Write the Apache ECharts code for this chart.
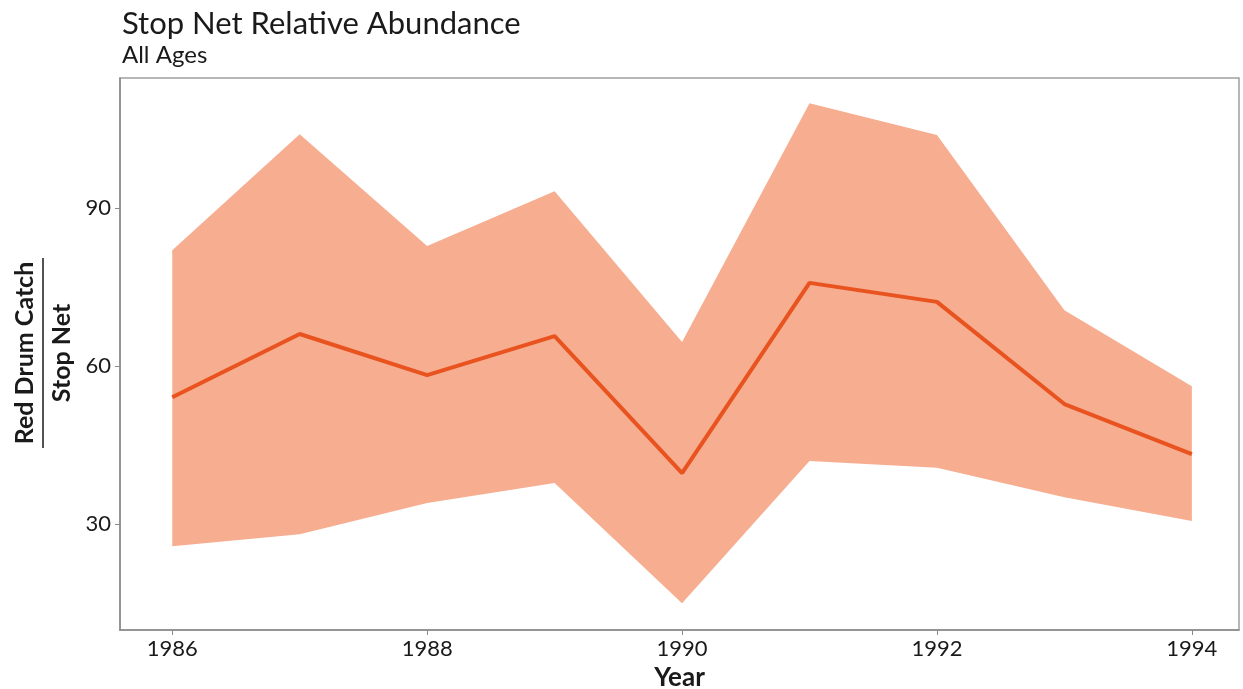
<!DOCTYPE html>
<html>
<head>
<meta charset="utf-8">
<script src="https://cdn.jsdelivr.net/npm/echarts@6/dist/echarts.min.js"></script>
<style>
  html, body { margin: 0; padding: 0; background: #fff; }
  #chart { width: 1243px; height: 689px; }
</style>
</head>
<body>
<div id="chart"></div>
<script>
// Stop net relative abundance of red drum, all ages
const years = [1986, 1987, 1988, 1989, 1990, 1991, 1992, 1993, 1994];
const meanCatch = [54.1, 66.1, 58.3, 65.7, 39.7, 75.8, 72.2, 52.8, 43.3];
const upperBound = [82.0, 104.0, 82.8, 93.2, 64.6, 109.9, 103.9, 70.6, 56.2];
const lowerBound = [25.8, 28.1, 34.0, 37.8, 15.0, 42.0, 40.7, 35.1, 30.6];
const xTicks = [1986, 1988, 1990, 1992, 1994];
const yTicks = [30, 60, 90];

const FONT = 'Lato, "Open Sans", sans-serif';
const axisGrey = '#8a8a8a';

const bandData = years.map((y, i) => [y, lowerBound[i], upperBound[i]]);
const meanData = years.map((y, i) => [y, meanCatch[i]]);

// Confidence band: one polygon through the upper bounds, back along the lower bounds
function renderBand(params, api) {
  if (params.dataIndex !== 0) return null;
  const n = bandData.length;
  const top = [], bottom = [];
  for (let i = 0; i < n; i++) {
    top.push(api.coord([bandData[i][0], bandData[i][2]]));
    bottom.push(api.coord([bandData[i][0], bandData[i][1]]));
  }
  const points = top.concat(bottom.reverse());
  return {
    type: 'polygon',
    shape: { points },
    style: { fill: '#f7ad8f' },
    silent: true
  };
}

const chart = echarts.init(document.getElementById('chart'), null, { renderer: 'canvas' });

chart.setOption({
  animation: false,
  backgroundColor: '#ffffff',
  title: {
    text: 'Stop Net Relative Abundance',
    subtext: 'All Ages',
    left: 117,
    top: 3,
    itemGap: 4,
    textStyle: { fontFamily: FONT, fontSize: 31, fontWeight: 'normal', color: '#1a1a1a' },
    subtextStyle: { fontFamily: FONT, fontSize: 24, color: '#1a1a1a' }
  },
  grid: {
    left: 120, right: 4, top: 78, bottom: 59,
    outerBoundsMode: 'none',
    containLabel: false,
    show: true, borderColor: '#a0a0a0', borderWidth: 1.5, backgroundColor: 'transparent'
  },
  xAxis: {
    type: 'value',
    min: 1985.59,
    max: 1994.37,
    splitLine: { show: false },
    axisLine: { show: true, lineStyle: { color: axisGrey, width: 1.5 } },
    axisTick: { show: true, length: 5, customValues: xTicks, lineStyle: { color: axisGrey } },
    axisLabel: {
      customValues: xTicks, color: '#1a1a1a', fontFamily: FONT, fontSize: 22, margin: 8,
      formatter: v => String(v)
    },
    name: 'Year',
    nameLocation: 'middle',
    nameGap: 31,
    nameTextStyle: {
      fontFamily: FONT, fontSize: 26, fontWeight: 'bold', color: '#1a1a1a',
      verticalAlign: 'top'
    }
  },
  yAxis: {
    type: 'value',
    min: 9.9,
    max: 114.7,
    splitLine: { show: false },
    axisLine: { show: true, lineStyle: { color: axisGrey, width: 1.5 } },
    axisTick: { show: true, length: 5, customValues: yTicks, lineStyle: { color: axisGrey } },
    axisLabel: {
      customValues: yTicks, color: '#1a1a1a', fontFamily: FONT, fontSize: 22, margin: 9,
      formatter: v => String(v)
    }
  },
  graphic: [
    {
      type: 'group',
      x: 43, y: 353,
      rotation: Math.PI / 2,
      children: [
        {
          type: 'text',
          x: 0, y: -6,
          style: {
            text: 'Red Drum Catch', fontFamily: FONT, fontSize: 25, fontWeight: 'bold',
            fill: '#1a1a1a', align: 'center', verticalAlign: 'bottom'
          }
        },
        {
          type: 'line',
          shape: { x1: -95, y1: 0, x2: 95, y2: 0 },
          style: { stroke: '#1a1a1a', lineWidth: 1.5 }
        },
        {
          type: 'text',
          x: 0, y: 6,
          style: {
            text: 'Stop Net', fontFamily: FONT, fontSize: 25, fontWeight: 'bold',
            fill: '#1a1a1a', align: 'center', verticalAlign: 'top'
          }
        }
      ]
    }
  ],
  series: [
    {
      name: 'interval',
      type: 'custom',
      data: bandData,
      encode: { x: 0, y: [1, 2] },
      renderItem: renderBand,
      silent: true,
      z: 1
    },
    {
      name: 'mean',
      type: 'line',
      data: meanData,
      symbol: 'none',
      lineStyle: { color: '#e8531f', width: 4 },
      z: 5
    }
  ]
});
</script>
</body>
</html>
